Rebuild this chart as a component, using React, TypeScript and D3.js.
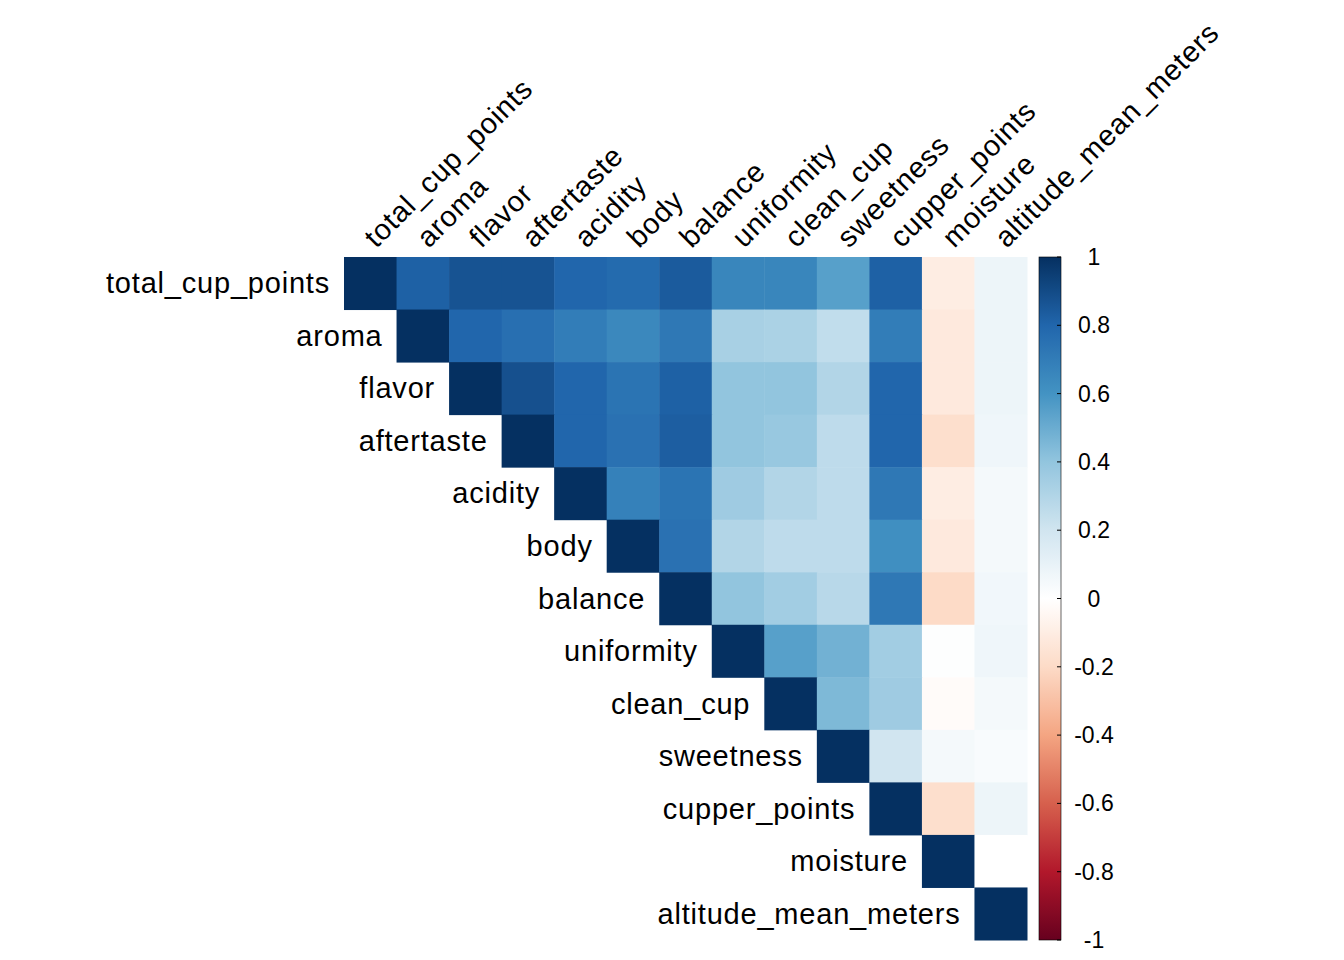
import * as d3 from 'd3'

const vars = ['total_cup_points', 'aroma', 'flavor', 'aftertaste', 'acidity', 'body', 'balance', 'uniformity', 'clean_cup', 'sweetness', 'cupper_points', 'moisture', 'altitude_mean_meters']

// upper triangle rows, starting at the diagonal
const rows = [
  [1, 0.82, 0.87, 0.87, 0.8, 0.78, 0.84, 0.66, 0.66, 0.55, 0.82, -0.1, 0.08],
  [1, 0.8, 0.76, 0.7, 0.65, 0.72, 0.33, 0.32, 0.25, 0.7, -0.12, 0.08],
  [1, 0.88, 0.8, 0.74, 0.82, 0.4, 0.4, 0.3, 0.8, -0.12, 0.08],
  [1, 0.8, 0.75, 0.83, 0.4, 0.38, 0.26, 0.8, -0.18, 0.07],
  [1, 0.68, 0.74, 0.36, 0.3, 0.26, 0.72, -0.1, 0.05],
  [1, 0.75, 0.3, 0.26, 0.26, 0.62, -0.12, 0.05],
  [1, 0.4, 0.35, 0.28, 0.72, -0.2, 0.06],
  [1, 0.55, 0.48, 0.35, 0.01, 0.07],
  [1, 0.45, 0.36, -0.02, 0.05],
  [1, 0.2, 0.05, 0.03],
  [1, -0.18, 0.08],
  [1, 0.0],
  [1],
]

const legendTicks = [1, 0.8, 0.6, 0.4, 0.2, 0, -0.2, -0.4, -0.6, -0.8, -1]
const palette = ['#67001F', '#B2182B', '#D6604D', '#F4A582', '#FDDBC7', '#FFFFFF', '#D1E5F0', '#92C5DE', '#4393C3', '#2166AC', '#053061']

export default function App() {
  const left = 344, top = 257, size = 683
  const x = d3.scaleBand<number>().domain(d3.range(vars.length)).range([left, left + size])
  const y = d3.scaleBand<number>().domain(d3.range(vars.length)).range([top, top + size])
  const color = d3.scaleLinear<string>().domain(d3.range(-1, 1.0001, 0.2)).range(palette).interpolate(d3.interpolateRgb)
  const ly = d3.scaleLinear().domain([-1, 1]).range([top + size, top])
  const stops = d3.range(0, 1.0001, 0.02)
  const font = 'Liberation Sans, Arial, sans-serif'
  return (
    <svg width={1344} height={960} style={{ position: 'absolute', left: 0, top: 0, background: '#fff' }} fontFamily={font}>
      {rows.map((r, i) => r.map((v, k) => {
        const j = i + k
        return <rect key={`${i}-${j}`} x={x(j)} y={y(i)} width={x.bandwidth() + 0.5} height={y.bandwidth() + 0.5} fill={color(v)} />
      }))}
      {vars.map((v, i) => (
        <text key={'r' + v} x={(x(i) as number) - 14} y={(y(i) as number) + y.bandwidth() / 2} textAnchor="end" dominantBaseline="central" fontSize={29} letterSpacing={0.8}>{v}</text>
      ))}
      {vars.map((v, i) => (
        <text key={'c' + v} transform={`translate(${(x(i) as number) + x.bandwidth() / 2 + 6},${top - 8}) rotate(-45)`} fontSize={29} letterSpacing={0.8}>{v}</text>
      ))}
      <defs>
        <linearGradient id="lg" x1="0" y1="1" x2="0" y2="0">
          {stops.map(s => <stop key={s} offset={s} stopColor={color(s * 2 - 1)} />)}
        </linearGradient>
      </defs>
      <rect x={1039} y={top} width={22} height={size} fill="url(#lg)" stroke="#000" strokeWidth={0.6} />
      {legendTicks.map(t => (
        <g key={t}>
          <line x1={1057} x2={1061} y1={ly(t)} y2={ly(t)} stroke="#000" />
          <text x={1094} y={ly(t)} textAnchor="middle" dominantBaseline="central" fontSize={23}>{t}</text>
        </g>
      ))}
    </svg>
  )
}
